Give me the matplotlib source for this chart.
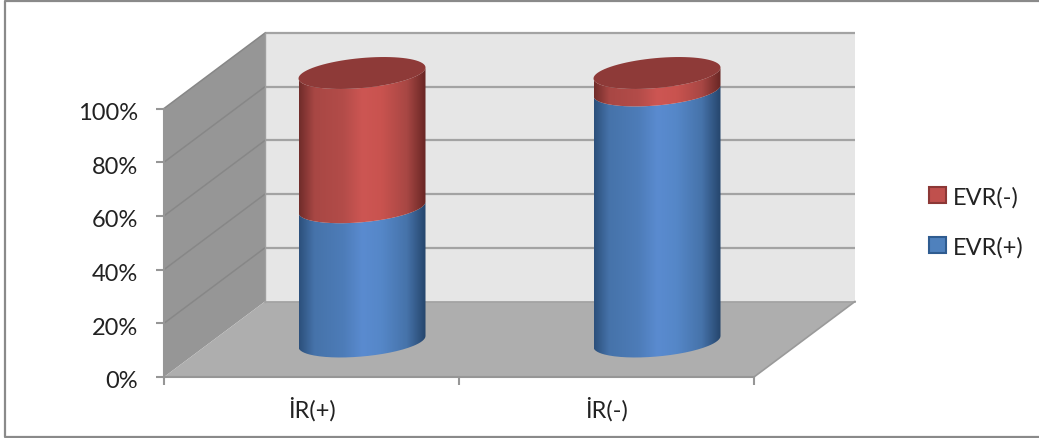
import numpy as np
import matplotlib
matplotlib.use('Agg')
import matplotlib.pyplot as plt
from matplotlib.colors import LinearSegmentedColormap
from matplotlib.lines import Line2D
from matplotlib.patches import Patch, PathPatch, Polygon
from matplotlib.path import Path
from matplotlib.transforms import ScaledTranslation

plt.rcParams['font.family'] = ['Lato', 'DejaVu Sans']

categories = ['İR(+)', 'İR(-)']
evr_pos = [50, 93.5]
evr_neg = [50, 6.5]
y_ticks = [0, 20, 40, 60, 80, 100]

W, H = 1039, 439
# front plane of the box, in pixels
LEFT, RIGHT, TOP, BOTTOM = 164, 754, 109.5, 378
X_UNIT = (RIGHT - LEFT) / 2.0
Y_UNIT = (BOTTOM - TOP) / 100.0
# oblique projection: how far the back plane is shifted
DX = 101 / X_UNIT
DY = 75.5 / Y_UNIT
# cylinders stand mid-depth, a little nearer the front vertically
CYL_DX = DX / 2
CYL_DY = 35.5 / Y_UNIT
# cylinder ellipse, in data units
RX = 63.5 / X_UNIT
TILT = 5.5 / Y_UNIT
RY = 15.0 / Y_UNIT

RED = {'top': '#8e3a38', 'side': ['#702c2a', '#a84744', '#b34c49', '#cd5653', '#c9534f', '#a84744', '#682624']}
BLUE = {'top': '#3f6a9c', 'side': ['#2c507c', '#4673aa', '#4d7cb8', '#5a8bd0', '#5587c8', '#4673aa', '#25456c']}
STOPS = [0, 0.12, 0.35, 0.5, 0.65, 0.85, 1]


def ellipse(cx, level, start=0.0, stop=2 * np.pi, n=80):
    t = np.linspace(start, stop, n)
    # t=0 is the right end, t=pi the left end
    return np.column_stack((cx + RX * np.cos(t),
                            level + TILT * np.cos(t) - RY * np.sin(t)))


def cylinder(ax, cx, low, high, style, z):
    cx = cx + CYL_DX
    y0 = low + CYL_DY
    y1 = high + CYL_DY
    front_low = ellipse(cx, y0, 0, np.pi)
    front_high = ellipse(cx, y1, np.pi, 0)
    verts = np.vstack((front_low, front_high, front_low[:1]))
    clip = PathPatch(Path(verts), fc='none', ec='none', transform=ax.transData, clip_on=False)
    ax.add_patch(clip)
    cmap = LinearSegmentedColormap.from_list('side', list(zip(STOPS, style['side'])))
    im = ax.imshow(np.linspace(0, 1, 256)[None, :], cmap=cmap, aspect='auto',
                   extent=(cx - RX, cx + RX, y0 - RY * 1.2, y1 + RY * 1.2), zorder=z)
    im.set_clip_box(fig.bbox)
    im.set_clip_path(clip)
    return cx, y1


fig = plt.figure(figsize=(W / 100, H / 100), dpi=100)
ax = fig.add_axes([LEFT / W, 1 - BOTTOM / H, (RIGHT - LEFT) / W, (BOTTOM - TOP) / H])
ax.patch.set_visible(False)

x0, x1 = -0.5, 1.5
# walls and floor
ax.add_patch(Polygon([(x0 + DX, DY), (x1 + DX, DY), (x1 + DX, 100 + DY), (x0 + DX, 100 + DY)],
                     fc='#e6e6e6', ec='none', clip_on=False, zorder=1))
ax.add_patch(Polygon([(x0, 0), (x0 + DX, DY), (x0 + DX, 100 + DY), (x0, 100)],
                     fc='#969696', ec='none', clip_on=False, zorder=1))
ax.add_patch(Polygon([(x0, 0), (x1, 0), (x1 + DX, DY), (x0 + DX, DY)],
                     fc='#aeaeae', ec='none', clip_on=False, zorder=1))
for v in y_ticks[1:]:
    ax.plot([x0 + DX, x1 + DX], [v + DY, v + DY], color='#a3a3a3', lw=1.6, clip_on=False,
            zorder=2, solid_capstyle='butt')
    ax.plot([x0, x0 + DX], [v, v + DY], color='#878787', lw=1.1, clip_on=False, zorder=2)
ax.plot([x0 + DX, x0 + DX], [DY, 100 + DY], color='#a0a0a0', lw=1.0, clip_on=False, zorder=2)
ax.plot([x0 + DX, x1 + DX], [DY, DY], color='#a3a3a3', lw=1.2, clip_on=False, zorder=2)
ax.plot([x1, x1 + DX], [0, DY], color='#9a9a9a', lw=1.2, clip_on=False, zorder=2)

for i in range(len(categories)):
    cx, lvl = cylinder(ax, i, 0, evr_pos[i], BLUE, 3)
    cx, lvl = cylinder(ax, i, evr_pos[i], evr_pos[i] + evr_neg[i], RED, 4)
    ax.add_patch(Polygon(ellipse(cx, lvl), fc=RED['top'], ec='none', clip_on=False, zorder=5))

ax.set_xlim(x0, x1)
ax.set_ylim(0, 100)
ax.set_yticks(y_ticks)
ax.set_yticklabels(['%d%%' % v for v in y_ticks], fontsize=17, color='#222222')
ax.set_xticks([-0.5, 0.5, 1.5])
ax.set_xticklabels([])
ax.set_xticks(range(len(categories)), categories, minor=True, fontsize=17, color='#222222')
ax.tick_params(axis='x', which='minor', length=0, pad=14)
ax.tick_params(axis='both', which='major', length=5.8, width=1.5, color='#969696')
ax.tick_params(axis='y', pad=13)
# percent labels sit a touch below their ticks
nudge = ScaledTranslation(0, -0.02, fig.dpi_scale_trans)
for t in ax.get_yticklabels():
    t.set_transform(t.get_transform() + nudge)
for s in ['top', 'right']:
    ax.spines[s].set_visible(False)
for s in ['left', 'bottom']:
    ax.spines[s].set_color('#969696')
    ax.spines[s].set_linewidth(1.5)
for s in ax.spines.values():
    s.set_zorder(6)

handles = [Patch(fc='#c0504d', ec='#8c3836', lw=1.5), Patch(fc='#4f81bd', ec='#2f5c90', lw=1.5)]
fig.legend(handles, ['EVR(-)', 'EVR(+)'], frameon=False, loc='center left',
           bbox_to_anchor=(929 / W, 1 - 222.5 / H), fontsize=17, labelcolor='#222222',
           borderpad=0, borderaxespad=0, handlelength=0.72, handleheight=0.72,
           handletextpad=0.3, labelspacing=1.2)

# chart border: top, left and bottom only, it runs off the right edge
bx = [1039 / W, 5 / W, 5 / W, 1039 / W]
by = [1 - 2 / H, 1 - 2 / H, 1 - 437.5 / H, 1 - 437.5 / H]
fig.add_artist(Line2D(bx, by, color='#8a8a8a', lw=1.6, transform=fig.transFigure))
fig.savefig('out.png', dpi=100)
